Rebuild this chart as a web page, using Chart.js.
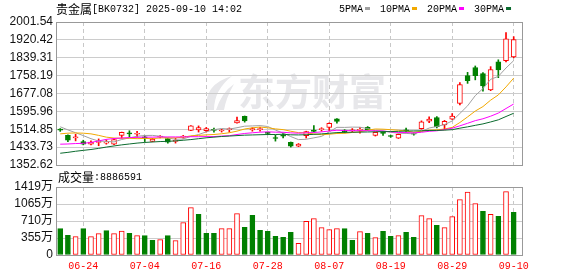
<!DOCTYPE html>
<html>
<head>
<meta charset="utf-8">
<script src="https://cdn.jsdelivr.net/npm/chart.js@4/dist/chart.umd.min.js"></script>
<style>
  html, body { margin: 0; padding: 0; background: #fff; }
  #wrap { position: relative; width: 578px; height: 276px; }
  canvas { position: absolute; left: 0; top: 0; }
</style>
</head>
<body>
<div id="wrap">
  <canvas id="kline" width="578" height="276"></canvas>
  <canvas id="vol" width="578" height="276"></canvas>
</div>
<script>
// trading days shown (MM-DD)
const dates = ['06-19','06-20','06-23','06-24','06-25','06-26','06-27','06-30',
  '07-01','07-02','07-03','07-04','07-07','07-08','07-09','07-10','07-11','07-14','07-15','07-16',
  '07-17','07-18','07-21','07-22','07-23','07-24','07-25','07-28','07-29','07-30','07-31',
  '08-01','08-04','08-05','08-06','08-07','08-08','08-11','08-12','08-13','08-14','08-15',
  '08-18','08-19','08-20','08-21','08-22','08-25','08-26','08-27','08-28','08-29',
  '09-01','09-02','09-03','09-04','09-05','09-08','09-09','09-10'];

const opens  = [1514,1487,1475,1459,1447,1455,1452,1447,1487,1497,1492,1478,1460,1479,1472,1460,1479,1509,1512,1508,
                1514,1507,1513,1544,1574,1512,1513,1500,1476,1487,1456,1438,1486,1511,1513,1523,1562,1511,1507,1510,
                1523,1487,1500,1485,1474,1511,1497,1518,1552,1568,1535,1561,1632,1758,1795,1767,1693,1821,1826,1843];
const highs  = [1518,1489,1492,1465,1462,1471,1467,1470,1502,1508,1505,1486,1474,1486,1475,1474,1487,1531,1530,1523,
                1520,1515,1521,1570,1575,1522,1523,1502,1488,1497,1457,1450,1506,1532,1522,1544,1563,1513,1518,1523,
                1527,1502,1502,1488,1494,1520,1499,1553,1571,1572,1555,1586,1727,1773,1802,1772,1799,1830,1954,1935];
const lows   = [1505,1459,1462,1444,1444,1440,1447,1445,1474,1480,1479,1459,1458,1475,1452,1452,1474,1508,1502,1502,
                1502,1502,1502,1543,1547,1506,1506,1490,1461,1475,1434,1436,1475,1503,1506,1508,1543,1498,1503,1497,
                1510,1484,1487,1478,1473,1502,1488,1515,1545,1521,1512,1559,1625,1723,1739,1688,1690,1749,1820,1839];
const closes = [1511,1465,1480,1447,1457,1460,1456,1468,1501,1494,1496,1476,1470,1481,1456,1463,1483,1530,1522,1518,
                1509,1511,1516,1554,1553,1518,1516,1496,1473,1484,1438,1448,1504,1505,1517,1542,1550,1502,1512,1514,
                1513,1501,1496,1482,1492,1508,1493,1548,1561,1527,1551,1575,1718,1735,1758,1712,1786,1784,1925,1922];

const ma5  = [1526,1512,1499,1486,1472,1461.2,1459.8,1457.4,1468.2,1475.6,1483,1486.6,1487,1483,1475.4,1469.2,1470.6,1482.6,1490.8,1503.2,
              1512.8,1518.2,1515.4,1521.8,1528.8,1530,1531.4,1527.4,1511.2,1497.4,1481.6,1467.8,1469.4,1475.8,1482.4,1503.2,1523.6,1523.2,1524.6,1524,
              1518.2,1508.4,1507.2,1501.2,1496.8,1495.8,1494.2,1504.6,1520.4,1527.4,1536,1552.4,1586.4,1621.2,1667.4,1699.6,1741.4,1754.8,1792.8,1826.2];
const ma10 = [1494,1497,1498,1497,1494,1487,1479,1475,1474,1473.8,1472.1,1473.2,1472.2,1475.6,1475.5,1476.1,1478.6,1484.8,1486.9,1489.3,
              1491,1494.4,1499,1506.3,1516,1521.4,1524.8,1521.4,1516.5,1513.1,1505.8,1499.6,1498.4,1493.5,1489.9,1492.4,1495.7,1496.3,1500.2,1503.2,
              1510.7,1516,1515.2,1512.9,1510.4,1507,1501.3,1505.9,1510.8,1512.1,1515.9,1523.3,1545.5,1570.8,1597.4,1617.8,1646.9,1670.6,1707,1746.8];
const ma20 = [1447,1448,1450,1451,1455,1462,1469,1473,1475,1477,1478,1479,1479,1480,1480,1480,1480,1481,1481,1481.6,
              1481.6,1483.8,1485.6,1491,1495.8,1498.8,1501.7,1503.1,1501.7,1501.2,1498.4,1497,1498.7,1499.9,1503,1506.9,1510.3,1508.9,1508.4,1508.2,
              1508.3,1507.8,1506.8,1503.2,1500.2,1499.7,1498.5,1501.1,1505.5,1507.7,1513.3,1519.7,1530.4,1541.9,1553.9,1562.4,1574.1,1588.3,1608.9,1629.5];
const ma30 = [1406,1410,1415,1419,1423,1428,1434,1439,1444,1448,1452,1455,1457,1459,1460,1462,1465,1468,1472,1476,
              1479,1482,1484,1486,1488,1489,1490,1491,1491,1492.1,1489.6,1489.1,1489.9,1491.8,1493.8,1496.6,1499.7,1500.8,1501.2,1501.9,
              1502.5,1503.3,1504.2,1504.2,1505.4,1506.9,1507.3,1507.9,1509.2,1509.5,1510.8,1513,1519.7,1525.7,1532.6,1539.1,1548,1557.6,1572.7,1587.4];

// volume in 万 and its colour (1 = red, 0 = green)
const volumes = [551,411,384,551,384,446,509,446,501,453,405,405,307,321,405,300,676,989,849,453,
                 453,551,551,864,578,828,515,495,390,369,474,244,703,759,571,530,551,551,307,488,
                 453,363,495,390,405,474,369,822,759,620,571,801,1156,1315,1072,912,849,808,1323,888.7];
const volUp   = [0,0,1,0,1,1,0,1,1,0, 1,0,0,1,0,1,1,1,0,0, 0,1,1,1,0,0,0,0,0,0,
                 0,1,1,1,1,1,1,0,0,1, 0,1,0,0,1,0,0,1,1,0, 1,1,1,1,1,0,1,0,1,0];

const priceTicks = [1352.62,1433.73,1514.85,1595.96,1677.08,1758.19,1839.31,1920.42,2001.54];
const volTicks = [0,354.85,709.7,1064.55,1419.4];
const volTickLabels = ['0','355万','710万','1065万','1419万'];
const xTickIdx = [3,11,19,27,35,43,51,59];

const RED = '#ff0000', GREEN = '#008000';
const maColors = ['#a0a0a0', '#f2a900', '#ff00ff', '#0b6b2f'];
const CJK = '"Noto Sans CJK SC"';
const MONO = '"Liberation Mono"';

function xAxis(showLabels) {
  return {
    type: 'linear', min: -0.55, max: 60.08, offset: false,
    afterBuildTicks: s => { s.ticks = xTickIdx.map(v => ({ value: v })); },
    grid: { color: '#c8c8c8', drawTicks: false, offset: false },
    border: { display: false, dash: [4, 3] },
    ticks: showLabels
      ? { autoSkip: false, maxRotation: 0, color: RED, padding: 5,
          font: { family: MONO, size: 10 }, callback: v => dates[v] }
      : { display: false },
    afterFit: s => { s.height = showLabels ? 21 : 0; }
  };
}

function frame(color) {
  return {
    id: 'frame',
    afterDraw(chart) {
      const { ctx, chartArea: a } = chart;
      ctx.save();
      ctx.strokeStyle = color;
      ctx.lineWidth = 1;
      ctx.strokeRect(a.left + 0.5, a.top + 0.5, a.width, a.height);
      ctx.restore();
    }
  };
}

function drawParts(ctx, x, y, parts) {
  ctx.textBaseline = 'middle';
  ctx.textAlign = 'left';
  parts.forEach(([t, f]) => {
    ctx.font = f;
    ctx.fillText(t, x, y);
    x += ctx.measureText(t).width;
  });
  return x;
}

const decor = {
  id: 'decor',
  beforeDraw(chart) {
    const ctx = chart.ctx;
    ctx.save();
    // watermark
    ctx.fillStyle = '#e7e7ea';
    ctx.font = 'bold 37px ' + CJK;
    ctx.textBaseline = 'middle';
    ctx.fillText('东方财富', 238, 92);
    ctx.beginPath();
    ctx.moveTo(206, 110);
    ctx.quadraticCurveTo(204, 84, 232, 76);
    ctx.quadraticCurveTo(214, 90, 214, 110);
    ctx.closePath();
    ctx.fill();
    ctx.beginPath();
    ctx.moveTo(216, 110);
    ctx.quadraticCurveTo(222, 92, 234, 84);
    ctx.quadraticCurveTo(226, 98, 224, 110);
    ctx.closePath();
    ctx.fill();
    ctx.restore();
  },
  afterDraw(chart) {
    const ctx = chart.ctx;
    ctx.save();
    ctx.fillStyle = '#000';
    drawParts(ctx, 56, 9, [['贵金属', '12px ' + CJK], ['[BK0732] 2025-09-10 14:02', '10px ' + MONO]]);
    const names = ['5PMA', '10PMA', '20PMA', '30PMA'];
    let x = 339;
    names.forEach((n, k) => {
      ctx.fillStyle = '#000';
      x = drawParts(ctx, x, 9, [[n, '10px ' + MONO]]);
      ctx.fillStyle = maColors[k];
      ctx.fillRect(x + 2, 7, 5, 3);
      x += 17;
    });
    ctx.restore();
  }
};

const volLabel = {
  id: 'volLabel',
  afterDraw(chart) {
    const ctx = chart.ctx;
    ctx.save();
    ctx.fillStyle = '#000';
    drawParts(ctx, 58, 177, [['成交量', '12px ' + CJK], [':8886591', '10px ' + MONO]]);
    ctx.restore();
  }
};

const up = dates.map((d, i) => closes[i] >= opens[i]);
const yFont = { family: '"Liberation Sans", ' + CJK + ', sans-serif', size: 12 };

new Chart(document.getElementById('kline'), {
  type: 'bar',
  data: {
    datasets: [
      { label: 'wick', order: 3, grouped: false, barThickness: 1,
        data: dates.map((d, i) => ({ x: i, y: [lows[i], highs[i]] })),
        backgroundColor: up.map(u => u ? RED : GREEN) },
      { label: 'body', order: 2, grouped: false, barThickness: 5, minBarLength: 1,
        borderWidth: 1, borderSkipped: false,
        data: dates.map((d, i) => ({ x: i, y: [opens[i], closes[i]] })),
        backgroundColor: up.map(u => u ? '#ffffff' : GREEN),
        borderColor: up.map(u => u ? RED : GREEN) },
      ...[ma5, ma10, ma20, ma30].map((arr, k) => ({
        type: 'line', label: ['5PMA', '10PMA', '20PMA', '30PMA'][k], order: 1 - k * 0.1,
        data: arr.map((v, i) => ({ x: i, y: v })),
        borderColor: maColors[k], borderWidth: 1, pointRadius: 0, tension: 0
      }))
    ]
  },
  options: {
    responsive: false, animation: false, events: [],
    layout: { padding: { top: 22, right: 56, bottom: 111, left: 0 } },
    plugins: { legend: { display: false }, tooltip: { enabled: false } },
    scales: {
      x: xAxis(false),
      y: {
        min: priceTicks[0], max: priceTicks[priceTicks.length - 1],
        afterBuildTicks: s => { s.ticks = priceTicks.map(v => ({ value: v })); },
        ticks: { autoSkip: false, color: '#111', font: yFont, padding: 3,
                 callback: v => v.toFixed(2) },
        grid: { color: '#cccccc', drawTicks: false },
        border: { display: false },
        afterFit: s => { s.width = 56; }
      }
    }
  },
  plugins: [decor, frame('#999999')]
});

new Chart(document.getElementById('vol'), {
  type: 'bar',
  data: {
    datasets: [{
      label: '成交量', grouped: false, barThickness: 5, borderWidth: 1, borderSkipped: false,
      data: volumes.map((v, i) => ({ x: i, y: v })),
      backgroundColor: volUp.map(u => u ? '#ffffff' : GREEN),
      borderColor: volUp.map(u => u ? RED : GREEN)
    }]
  },
  options: {
    responsive: false, animation: false, events: [],
    layout: { padding: { top: 187, right: 56, bottom: 0, left: 0 } },
    plugins: { legend: { display: false }, tooltip: { enabled: false } },
    scales: {
      x: xAxis(true),
      y: {
        min: 0, max: volTicks[volTicks.length - 1],
        afterBuildTicks: s => { s.ticks = volTicks.map(v => ({ value: v })); },
        ticks: { autoSkip: false, color: '#111', font: yFont, padding: 3,
                 callback: (v, i) => volTickLabels[i] },
        grid: { color: '#cccccc', drawTicks: false },
        border: { display: false },
        afterFit: s => { s.width = 56; }
      }
    }
  },
  plugins: [volLabel, frame('#999999')]
});
</script>
</body>
</html>
